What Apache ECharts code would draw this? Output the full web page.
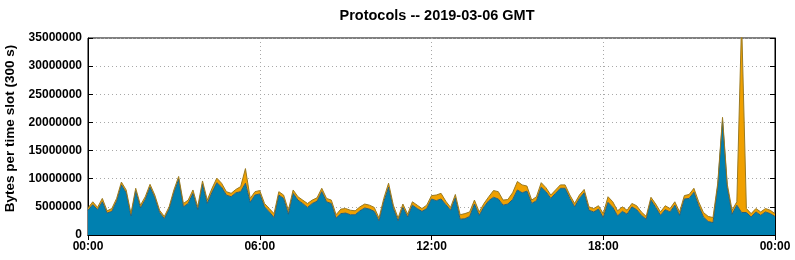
<!DOCTYPE html>
<html><head><meta charset="utf-8">
<script src="https://cdn.jsdelivr.net/npm/echarts@6/dist/echarts.min.js"></script>
<style>html,body{margin:0;padding:0;background:#fff}#c{width:795px;height:260px}</style>
</head><body><div id="c"></div>
<script>
// 10-minute samples (values in millions of bytes per 300 s slot)
const slotStepMinutes = 10;
const xTickLabels = ['00:00', '06:00', '12:00', '18:00', '00:00'];
const yTickValues = [0, 5000000, 10000000, 15000000, 20000000, 25000000, 30000000, 35000000];
const seriesNames = ['Protocol 1', 'Protocol 2'];

const bottomLayerM = [
  4.4, 5.4, 4.5, 5.9, 3.9, 4.2, 6.0, 8.9, 7.5, 3.4,
  7.8, 4.8, 6.3, 8.5, 6.6, 4.0, 2.9, 4.6, 7.5, 9.9,
  5.0, 5.6, 7.4, 4.5, 9.0,
  5.6, 7.6, 9.3, 8.5, 7.1, 6.8, 7.5, 7.7, 9.2, 5.8,
  7.1, 7.3, 5.0, 4.1, 3.1, 7.1, 6.5, 3.7, 7.4, 6.2,
  5.6, 4.9, 5.6, 6.0,
  7.7, 5.9, 5.6, 3.0, 3.8, 3.9, 3.6, 3.6, 4.3, 4.8,
  4.6, 4.2, 2.5, 5.9, 8.5, 4.7, 2.5, 4.9, 3.2, 5.3,
  4.7, 4.2, 4.7, 6.4,
  6.1, 6.4, 5.4, 4.4, 6.6, 2.8, 2.9, 3.3, 5.5, 3.5,
  5.0, 6.1, 6.7, 6.4, 5.3, 5.5, 6.3, 8.0, 7.5, 7.8,
  5.6, 6.1, 8.5, 7.7,
  6.5, 7.4, 8.3, 8.3, 6.5, 5.0, 6.5, 7.5, 4.4, 4.1,
  4.6, 3.1, 5.8, 4.9, 3.4, 4.2, 3.7, 5.0, 4.5, 3.5,
  2.8, 6.2, 4.9, 3.5,
  4.5, 4.1, 5.3, 3.5, 6.4, 6.5, 7.6, 5.2, 3.2, 2.4,
  2.2, 8.7, 20.3, 8.4, 3.7, 5.3, 4.0, 4.0, 3.2, 4.1,
  3.5, 4.1, 3.8, 3.3
];

const topLayerM = [
  0.4, 0.5, 0.4, 0.6, 0.4, 0.5, 0.5, 0.5, 0.5, 0.4,
  0.5, 0.5, 0.5, 0.5, 0.5, 0.4, 0.4, 0.4, 0.5, 0.5,
  0.6, 0.6, 0.6, 0.5, 0.6,
  0.6, 0.7, 0.8, 0.7, 0.6, 0.6, 0.6, 0.9, 2.6, 0.7,
  0.6, 0.6, 0.6, 0.6, 0.7, 0.6, 0.6, 0.7, 0.6, 0.6,
  0.6, 0.7, 0.6, 0.6,
  0.6, 0.6, 0.6, 0.6, 0.8, 0.8, 0.8, 0.7, 0.7, 0.7,
  0.7, 0.7, 0.5, 0.6, 0.7, 0.6, 0.5, 0.6, 0.5, 0.6,
  0.6, 0.5, 0.6, 0.6,
  1.0, 1.0, 0.6, 0.5, 0.6, 0.8, 0.9, 0.8, 0.7, 0.6,
  0.6, 0.7, 1.2, 1.3, 0.9, 0.8, 1.2, 1.5, 1.4, 0.9,
  0.6, 0.7, 0.8, 0.7,
  0.6, 0.6, 0.6, 0.6, 0.6, 0.6, 0.6, 0.6, 0.6, 0.6,
  0.6, 0.7, 1.0, 1.0, 0.9, 0.8, 0.7, 0.6, 0.7, 0.6,
  0.5, 0.5, 0.6, 0.6,
  0.7, 0.6, 0.6, 0.6, 0.6, 0.7, 0.7, 0.7, 0.8, 0.9,
  0.9, 0.5, 0.6, 0.6, 0.7, 0.6, 34.0, 0.7, 0.6, 0.6,
  0.6, 0.6, 0.6, 0.5
];

const slotCategories = bottomLayerM.map((_, i) => String(i * slotStepMinutes));
const ticksEvery = 360 / slotStepMinutes; // one tick per 6 hours
const FONT = '"Liberation Sans", Arial, sans-serif';
const gridLine = { show: true, interval: ticksEvery - 1, lineStyle: { color: '#a8a8a8', type: [1, 3], width: 1 } };

const chart = echarts.init(document.getElementById('c'), null, { renderer: 'canvas' });
chart.setOption({
  animation: false,
  backgroundColor: '#ffffff',
  title: {
    text: 'Protocols -- 2019-03-06 GMT',
    left: 432, top: 3, textAlign: 'center',
    textStyle: { fontFamily: FONT, fontSize: 14.5, fontWeight: 'bold', color: '#000' }
  },
  grid: { left: 88, right: 20, top: 38, bottom: 25, containLabel: false, outerBoundsMode: 'none',
    show: true, borderColor: '#000', borderWidth: 1, backgroundColor: 'transparent' },
  xAxis: [{
    type: 'category', data: slotCategories, boundaryGap: false, position: 'bottom',
    axisLine: { show: true, lineStyle: { color: '#000', width: 1 } },
    axisTick: { show: true, inside: true, length: 5, interval: ticksEvery - 1, lineStyle: { color: '#000' } },
    axisLabel: { interval: ticksEvery - 1, formatter: (v, idx) => xTickLabels[Math.round(idx / ticksEvery)],
      color: '#000', fontFamily: FONT, fontSize: 12, fontWeight: 'bold', margin: 6, showMaxLabel: true },
    splitLine: gridLine
  }, {
    type: 'category', data: slotCategories, boundaryGap: false, position: 'top',
    axisLine: { show: true, lineStyle: { color: '#000' } },
    axisTick: { show: true, inside: true, length: 5, interval: ticksEvery - 1, lineStyle: { color: '#000' } },
    axisLabel: { show: false }, splitLine: { show: false }
  }],
  yAxis: [{
    type: 'value', min: yTickValues[0], max: yTickValues[yTickValues.length - 1], interval: 5000000, position: 'left',
    name: 'Bytes per time slot (300 s)', nameLocation: 'middle', nameGap: 68,
    nameTextStyle: { fontFamily: FONT, fontSize: 13.5, fontWeight: 'bold', color: '#000', padding: [0, 0, 0, 16] },
    axisLine: { show: true, lineStyle: { color: '#000' } },
    axisTick: { show: true, inside: true, length: 5, lineStyle: { color: '#000' } },
    axisLabel: { formatter: v => String(v), color: '#000', fontFamily: FONT, fontSize: 12, fontWeight: 'bold', margin: 6 },
    splitLine: gridLine
  }, {
    type: 'value', min: yTickValues[0], max: yTickValues[yTickValues.length - 1], interval: 5000000, position: 'right',
    axisLine: { show: true, lineStyle: { color: '#000' } },
    axisTick: { show: true, inside: true, length: 5, lineStyle: { color: '#000' } },
    axisLabel: { show: false }, splitLine: { show: false }
  }],
  series: [{
    name: seriesNames[0], type: 'line', stack: 'total', data: bottomLayerM.map(v => v * 1e6),
    showSymbol: false, symbol: 'none', clip: true,
    lineStyle: { color: '#2a5f78', width: 1 },
    areaStyle: { color: '#0080b0', opacity: 1 }
  }, {
    name: seriesNames[1], type: 'line', stack: 'total', data: topLayerM.map(v => v * 1e6),
    showSymbol: false, symbol: 'none', clip: true,
    lineStyle: { color: '#9a7a20', width: 1 },
    areaStyle: { color: '#f0a000', opacity: 1 }
  }]
});
</script></body></html>
